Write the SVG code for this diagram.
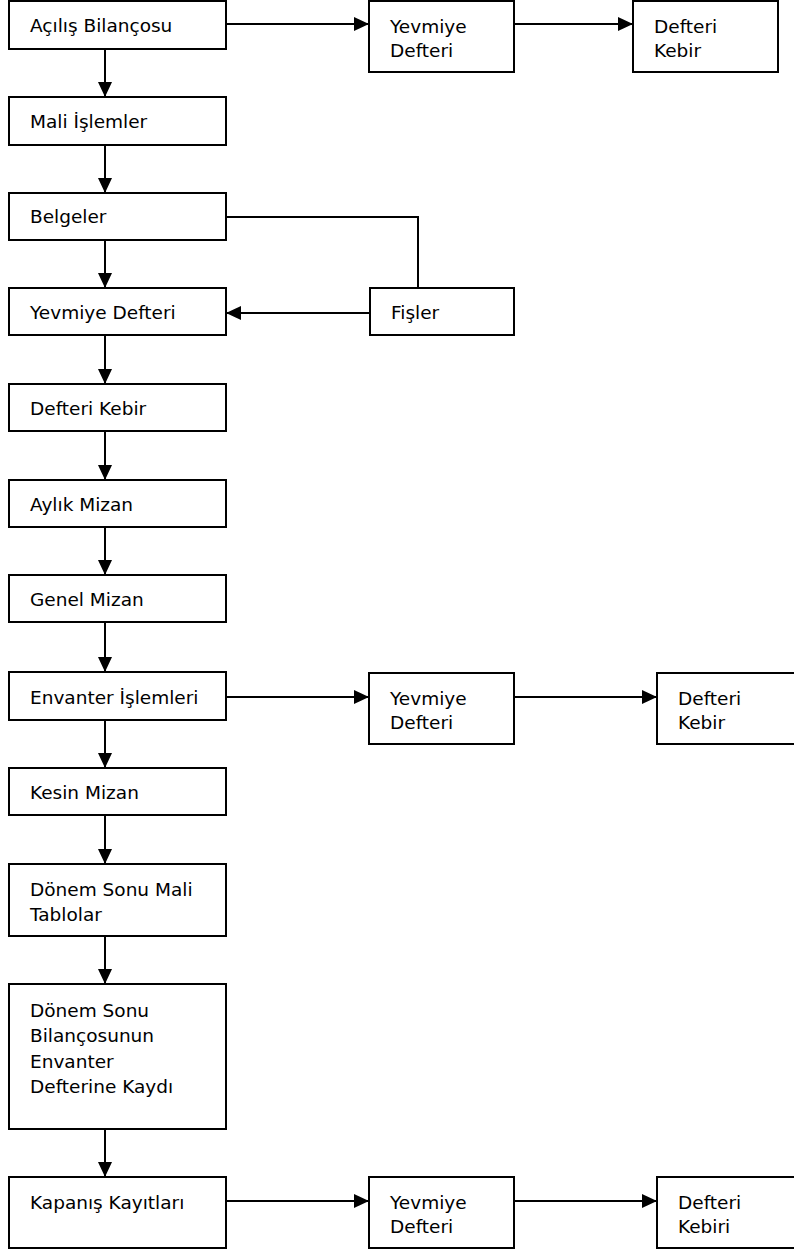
<svg xmlns="http://www.w3.org/2000/svg" width="794" height="1249" viewBox="0 0 794 1249">
<style>
.box{fill:#fff;stroke:#000;stroke-width:2}
.t{font-family:"DejaVu Sans",Verdana,sans-serif;font-size:18.5px;fill:#000}
.c{fill:none;stroke:#000;stroke-width:2}
</style>
<defs>
<marker id="ah" markerUnits="userSpaceOnUse" markerWidth="15" markerHeight="14" refX="15" refY="7" orient="auto" viewBox="0 0 15 14">
<path d="M0,0 L15,7 L0,14 z" fill="#000"/>
</marker>
</defs>
<rect width="794" height="1249" fill="#fff"/>
<g id="connectors">
<line class="c" x1="105" y1="49" x2="105" y2="97" marker-end="url(#ah)"/>
<line class="c" x1="105" y1="145" x2="105" y2="193" marker-end="url(#ah)"/>
<line class="c" x1="105" y1="240" x2="105" y2="288" marker-end="url(#ah)"/>
<line class="c" x1="105" y1="335" x2="105" y2="384" marker-end="url(#ah)"/>
<line class="c" x1="105" y1="431" x2="105" y2="480" marker-end="url(#ah)"/>
<line class="c" x1="105" y1="527" x2="105" y2="575" marker-end="url(#ah)"/>
<line class="c" x1="105" y1="622" x2="105" y2="672" marker-end="url(#ah)"/>
<line class="c" x1="105" y1="720" x2="105" y2="768" marker-end="url(#ah)"/>
<line class="c" x1="105" y1="815" x2="105" y2="864" marker-end="url(#ah)"/>
<line class="c" x1="105" y1="936" x2="105" y2="984" marker-end="url(#ah)"/>
<line class="c" x1="105" y1="1129" x2="105" y2="1177" marker-end="url(#ah)"/>
<line class="c" x1="226" y1="24" x2="369" y2="24" marker-end="url(#ah)"/>
<line class="c" x1="514" y1="24" x2="633" y2="24" marker-end="url(#ah)"/>
<line class="c" x1="226" y1="697" x2="369" y2="697" marker-end="url(#ah)"/>
<line class="c" x1="514" y1="697" x2="657" y2="697" marker-end="url(#ah)"/>
<line class="c" x1="226" y1="1201" x2="369" y2="1201" marker-end="url(#ah)"/>
<line class="c" x1="514" y1="1201" x2="657" y2="1201" marker-end="url(#ah)"/>
<polyline class="c" points="226,217 418,217 418,288"/>
<line class="c" x1="370" y1="313" x2="226" y2="313" marker-end="url(#ah)"/>
</g>
<g id="n-acilis"><rect class="box" x="9" y="1" width="217" height="48"/><text class="t" x="30" y="32">Açılış Bilançosu</text></g>
<g id="n-yev1"><rect class="box" x="369" y="1" width="145" height="71"/><text class="t" x="390" y="33">Yevmiye</text><text class="t" x="390" y="57">Defteri</text></g>
<g id="n-keb1"><rect class="box" x="633" y="1" width="145" height="71"/><text class="t" x="654" y="33">Defteri</text><text class="t" x="654" y="57">Kebir</text></g>
<g id="n-mali"><rect class="box" x="9" y="97" width="217" height="48"/><text class="t" x="30" y="128">Mali İşlemler</text></g>
<g id="n-belgeler"><rect class="box" x="9" y="193" width="217" height="47"/><text class="t" x="30" y="223">Belgeler</text></g>
<g id="n-yevmiye"><rect class="box" x="9" y="288" width="217" height="47"/><text class="t" x="30" y="319">Yevmiye Defteri</text></g>
<g id="n-fisler"><rect class="box" x="370" y="288" width="144" height="47"/><text class="t" x="391" y="319">Fişler</text></g>
<g id="n-kebir"><rect class="box" x="9" y="384" width="217" height="47"/><text class="t" x="30" y="415">Defteri Kebir</text></g>
<g id="n-aylik"><rect class="box" x="9" y="480" width="217" height="47"/><text class="t" x="30" y="511">Aylık Mizan</text></g>
<g id="n-genel"><rect class="box" x="9" y="575" width="217" height="47"/><text class="t" x="30" y="606">Genel Mizan</text></g>
<g id="n-envanter"><rect class="box" x="9" y="672" width="217" height="48"/><text class="t" x="30" y="704">Envanter İşlemleri</text></g>
<g id="n-yev2"><rect class="box" x="369" y="673" width="145" height="71"/><text class="t" x="390" y="705">Yevmiye</text><text class="t" x="390" y="729">Defteri</text></g>
<g id="n-keb2"><rect class="box" x="657" y="673" width="145" height="71"/><text class="t" x="678" y="705">Defteri</text><text class="t" x="678" y="729">Kebir</text></g>
<g id="n-kesin"><rect class="box" x="9" y="768" width="217" height="47"/><text class="t" x="30" y="799">Kesin Mizan</text></g>
<g id="n-donem"><rect class="box" x="9" y="864" width="217" height="72"/><text class="t" x="30" y="896">Dönem Sonu Mali</text><text class="t" x="30" y="921">Tablolar</text></g>
<g id="n-bilanco"><rect class="box" x="9" y="984" width="217" height="145"/><text class="t" x="30" y="1017">Dönem Sonu</text><text class="t" x="30" y="1042">Bilançosunun</text><text class="t" x="30" y="1068">Envanter</text><text class="t" x="30" y="1093">Defterine Kaydı</text></g>
<g id="n-kapanis"><rect class="box" x="9" y="1177" width="217" height="71"/><text class="t" x="30" y="1209">Kapanış Kayıtları</text></g>
<g id="n-yev3"><rect class="box" x="369" y="1177" width="145" height="71"/><text class="t" x="390" y="1209">Yevmiye</text><text class="t" x="390" y="1233">Defteri</text></g>
<g id="n-keb3"><rect class="box" x="657" y="1177" width="145" height="71"/><text class="t" x="678" y="1209">Defteri</text><text class="t" x="678" y="1233">Kebiri</text></g>
</svg>
